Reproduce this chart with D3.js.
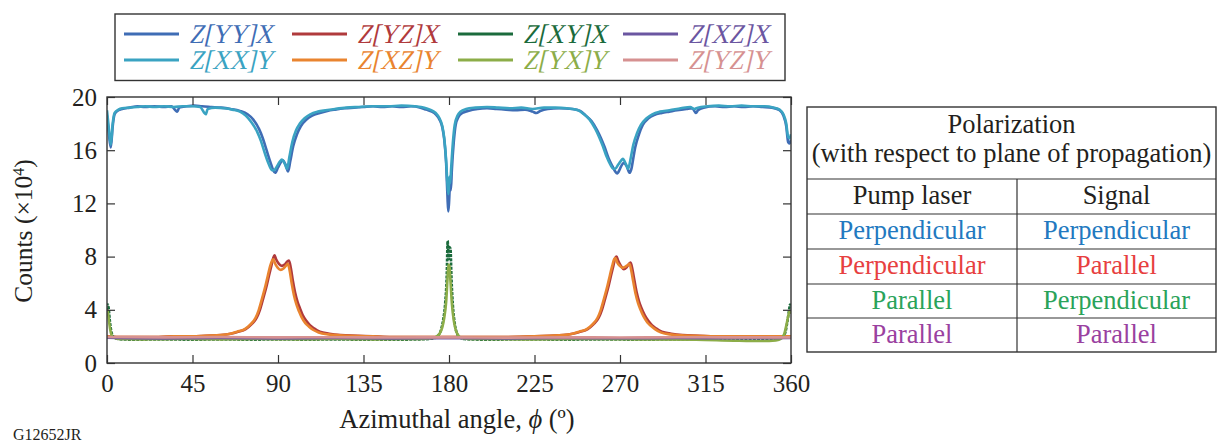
<!DOCTYPE html>
<html><head><meta charset="utf-8">
<script src="https://cdn.jsdelivr.net/npm/d3@7"></script>
<style>
body{margin:0;background:#fff;}
svg{display:block;}
</style></head>
<body><svg id="c" width="1217" height="443"></svg>
<script>
// ---------- data ----------
const xTicks = [0,45,90,135,180,225,270,315,360];
const yTicks = [0,4,8,12,16,20];

const seriesNames = ["Z[YY]X","Z[XX]Y","Z[YZ]X","Z[XZ]Y","Z[XY]X","Z[YX]Y","Z[XZ]X","Z[YZ]Y"];
const seriesColors = ["#3f6db5","#3aa3c2","#b03a3c","#e9842f","#1b6b3c","#8cad48","#6b56a1","#d69191"];

const zYYX = [[0,18.6],[1,17.2],[2,16.2],[3,17.8],[4,18.7],[6,19.0],[8,19.1],[12,19.2],[16,19.3],[20,19.25],[25,19.3],[30,19.25],[34,19.3],[36,19.0],[37,18.9],[38,19.2],[42,19.3],[46,19.35],[50,19.3],[55,19.25],[60,19.2],[65,19.1],[70,18.95],[74,18.7],[77,18.3],[80,17.6],[82,16.9],[84,16.0],[86,15.1],[87.5,14.5],[88.5,14.3],[90,14.7],[91.5,15.1],[92.5,15.25],[94,14.9],[95.3,14.4],[96.5,15.2],[98,16.3],[100,17.2],[102,17.8],[105,18.3],[108,18.6],[112,18.8],[116,18.95],[120,19.05],[125,19.15],[130,19.2],[135,19.25],[140,19.3],[145,19.25],[150,19.3],[155,19.25],[160,19.3],[165,19.2],[168,19.05],[171,18.9],[173,18.7],[175,18.3],[176.5,17.7],[177.5,16.8],[178.5,15.0],[179.2,12.5],[179.6,11.4],[180,12.0],[180.5,13.3],[181,13.0],[181.5,14.5],[182.5,16.6],[183.5,17.9],[185,18.5],[187,18.8],[190,18.95],[195,19.1],[200,19.15],[205,19.1],[210,19.05],[215,19.0],[220,19.05],[224,18.9],[226,18.8],[228,18.95],[232,19.1],[238,19.15],[245,19.1],[249,18.95],[252,18.6],[255,18.2],[258,17.5],[260,16.9],[262,16.2],[264,15.4],[266,14.8],[267.5,14.4],[268.5,14.25],[270,14.6],[271,14.9],[272,15.05],[273.5,14.8],[275,14.3],[276,14.6],[277,15.4],[278,16.2],[280,17.2],[282,17.9],[285,18.4],[288,18.65],[292,18.8],[296,18.9],[300,19.0],[305,19.1],[308,19.15],[310,18.8],[311,19.0],[314,19.2],[320,19.3],[325,19.25],[330,19.3],[335,19.25],[340,19.3],[345,19.25],[350,19.2],[354,19.0],[356,18.6],[357.5,17.8],[358.5,16.6],[359.2,16.5],[360,16.8]];

const zXXY = [[0,19.0],[1,17.6],[2,16.4],[3,18.0],[4,18.8],[6,19.05],[8,19.15],[12,19.2],[16,19.25],[20,19.3],[25,19.25],[30,19.3],[35,19.25],[40,19.3],[45,19.3],[49,19.25],[51,18.85],[52,18.7],[53,19.1],[57,19.2],[62,19.15],[66,19.05],[70,18.9],[73,18.6],[76,18.1],[79,17.4],[81,16.7],[83,15.8],[85,15.0],[86.8,14.5],[88,14.5],[89.5,14.8],[91,15.15],[92,15.3],[93.5,15.0],[94.8,14.6],[96,15.5],[97.5,16.6],[99.5,17.5],[101.5,18.0],[104,18.4],[107,18.7],[111,18.9],[115,19.0],[120,19.1],[126,19.2],[132,19.25],[140,19.3],[148,19.3],[155,19.35],[162,19.3],[167,19.2],[170,19.05],[173,18.8],[175,18.4],[176.5,17.8],[177.5,16.9],[178.5,15.2],[179.2,13.4],[179.7,12.7],[180.2,14.0],[180.6,13.5],[181.2,14.8],[182,16.5],[183,17.9],[184.5,18.6],[186,18.9],[189,19.1],[194,19.2],[200,19.25],[206,19.2],[212,19.15],[218,19.2],[224,19.1],[230,19.2],[236,19.2],[242,19.15],[248,19.0],[251,18.7],[254,18.3],[257,17.6],[259,17.0],[261,16.3],[263,15.5],[265,14.9],[266.5,14.6],[267.5,14.6],[269,14.9],[270.5,15.2],[271.5,15.35],[273,15.0],[274.3,14.6],[275.5,15.3],[277,16.4],[279,17.3],[281,17.9],[284,18.4],[287,18.7],[291,18.9],[296,19.0],[302,19.15],[307,19.25],[309,19.1],[311,19.2],[316,19.3],[322,19.35],[328,19.3],[334,19.35],[340,19.3],[346,19.3],[351,19.2],[354,19.05],[356,18.7],[357.5,18.0],[358.5,17.0],[359.3,16.9],[360,17.2]];

const zYZX = [[0,2.0],[5,1.95],[15,1.95],[25,1.95],[35,2.0],[45,2.0],[52,2.05],[60,2.1],[65,2.2],[69,2.35],[73,2.55],[76,2.9],[78.8,3.4],[80.5,4.0],[82.3,4.9],[84,5.8],[85.3,6.6],[86.5,7.3],[87.5,7.9],[88.2,8.1],[89,7.8],[90.5,7.45],[92,7.3],[93.5,7.4],[95,7.65],[95.8,7.7],[96.8,7.1],[97.8,6.2],[99,5.3],[100.3,4.6],[101.6,4.1],[103,3.6],[105,3.15],[106.8,2.85],[109,2.6],[112,2.35],[117,2.2],[123,2.1],[132,2.05],[140,2.0],[150,1.95],[165,1.95],[180,1.95],[195,1.95],[210,1.95],[225,2.0],[233,2.05],[240,2.1],[245,2.2],[249,2.35],[253,2.55],[256,2.9],[258.8,3.4],[260.5,4.0],[262.3,4.9],[264,5.8],[265.3,6.6],[266.5,7.3],[267.5,7.9],[268.2,8.0],[269,7.7],[270.5,7.3],[272,7.05],[273.5,7.2],[275,7.5],[275.6,7.55],[276.6,7.0],[277.6,6.2],[278.8,5.3],[280.1,4.6],[281.4,4.1],[283,3.6],[285,3.15],[286.8,2.85],[289,2.6],[292,2.35],[297,2.2],[303,2.1],[312,2.05],[320,2.0],[335,2.0],[350,2.0],[360,2.0]];

const zXZY = [[0,2.0],[5,1.95],[15,1.95],[25,1.95],[35,2.0],[45,2.0],[52,2.05],[60,2.1],[65,2.2],[68.5,2.35],[72.5,2.55],[75.5,2.9],[78.2,3.4],[79.9,4.0],[81.7,4.9],[83.4,5.8],[84.7,6.6],[85.9,7.3],[86.9,7.7],[87.6,7.8],[88.4,7.5],[89.9,7.15],[91.4,7.0],[92.9,7.1],[94.4,7.35],[95.2,7.45],[96.2,6.9],[97.2,6.0],[98.4,5.1],[99.7,4.4],[101,3.9],[102.4,3.45],[104.4,3.0],[106.2,2.75],[108.4,2.5],[111.4,2.3],[116.4,2.15],[122.4,2.08],[132,2.02],[140,2.0],[150,1.95],[165,1.95],[180,1.95],[195,1.95],[210,1.95],[225,2.0],[233,2.05],[240,2.1],[245,2.2],[248.5,2.35],[252.5,2.55],[255.5,2.9],[258.2,3.4],[259.9,4.0],[261.7,4.9],[263.4,5.8],[264.7,6.6],[265.9,7.3],[266.9,7.8],[267.6,7.9],[268.4,7.6],[269.9,7.3],[271.4,7.15],[272.9,7.25],[274.4,7.4],[275,7.45],[276,6.9],[277,6.1],[278.2,5.2],[279.5,4.5],[280.8,4.0],[282.4,3.5],[284.4,3.05],[286.2,2.8],[288.4,2.55],[291.4,2.3],[296.4,2.15],[302.4,2.08],[312,2.03],[320,2.0],[335,2.0],[350,2.0],[360,2.0]];

const zXYX = [[0,3.6],[0.4,4.4],[0.9,4.1],[1.4,3.3],[2,2.6],[2.8,2.1],[4,1.9],[6,1.8],[15,1.75],[30,1.78],[45,1.75],[60,1.78],[75,1.75],[90,1.78],[105,1.75],[120,1.78],[135,1.75],[150,1.75],[165,1.78],[172,1.85],[174.5,2.1],[176,2.6],[177,3.3],[178,4.5],[178.8,6.5],[179.3,9.2],[179.8,7.8],[180.3,8.7],[180.8,8.6],[181.3,6.4],[182,4.4],[183,3.0],[184,2.3],[185.5,1.95],[188,1.8],[200,1.75],[220,1.78],[240,1.75],[260,1.78],[280,1.75],[300,1.78],[320,1.75],[340,1.78],[350,1.8],[354,1.85],[356,2.0],[357.2,2.4],[358.2,3.2],[359,4.0],[359.5,4.4],[360,4.2]];

const zYXY = [[0,4.0],[0.5,3.8],[1,3.2],[1.6,2.6],[2.4,2.1],[3.5,1.9],[6,1.8],[20,1.78],[40,1.8],[60,1.78],[80,1.8],[100,1.78],[120,1.8],[140,1.78],[160,1.8],[170,1.85],[173,1.95],[175,2.2],[176.5,2.7],[177.5,3.4],[178.5,4.6],[179.2,6.3],[179.7,7.4],[180.2,7.3],[180.8,6.1],[181.5,4.5],[182.5,3.2],[183.5,2.5],[185,2.05],[187,1.85],[195,1.8],[220,1.78],[250,1.8],[280,1.78],[310,1.75],[330,1.68],[345,1.65],[352,1.7],[355,1.85],[356.5,2.2],[357.5,2.8],[358.5,3.5],[359.3,3.9],[360,3.7]];

const zXZX = [[0,1.9],[30,1.85],[60,1.88],[90,1.85],[120,1.88],[150,1.85],[180,1.87],[210,1.85],[240,1.88],[270,1.86],[300,1.88],[330,1.86],[360,1.88]];

const zYZY = [[0,1.96],[30,1.93],[60,1.95],[90,1.93],[120,1.94],[150,1.92],[180,1.93],[210,1.91],[240,1.93],[270,1.92],[300,1.94],[330,1.93],[360,1.93]];

const drawOrder = [zYYX, zXXY, zYZX, zXZY, zXYX, zYXY, zXZX, zYZY];

const tableTitle = ["Polarization","(with respect to plane of propagation)"];
const tableHead = ["Pump laser","Signal"];
const tablePump = ["Perpendicular","Perpendicular","Parallel","Parallel"];
const tableSignal = ["Perpendicular","Parallel","Perpendicular","Parallel"];
const tableColors = ["#2279c0","#e7403f","#2aa35a","#9a41a0"];

// ---------- layout ----------
const FONT = "'Liberation Serif','Times New Roman',serif";
const INK = "#231f20";
const svg = d3.select("#c");
const L = 107, R = 791, T = 97, B = 363;
const x = d3.scaleLinear().domain([0,360]).range([L,R]);
const y = d3.scaleLinear().domain([0,20]).range([B,T]);

function txt(parent, size){
  return parent.append("text").style("font-family",FONT).style("font-size",size+"px").style("fill",INK);
}

svg.append("clipPath").attr("id","clip").append("rect")
  .attr("x",L).attr("y",T).attr("width",R-L).attr("height",B-T);

const line = d3.line().x(d=>x(d[0])).y(d=>y(d[1])).curve(d3.curveMonotoneX);
const g = svg.append("g").attr("clip-path","url(#clip)");
drawOrder.forEach((data,i)=>{
  g.append("path").datum(data).attr("d",line)
    .attr("fill","none").attr("stroke",seriesColors[i])
    .attr("stroke-width",2.6).attr("stroke-linejoin","round")
    .attr("stroke-dasharray", i===4 ? "3,1.2" : null);
});

// axes with inward ticks on all sides
const axStyle = sel => { sel.select(".domain").remove();
  sel.selectAll("line").attr("stroke","#333").attr("stroke-width",1.2);
  sel.selectAll("text").style("font-family",FONT).style("font-size","25px").style("fill",INK); };
svg.append("g").attr("transform",`translate(0,${B})`)
  .call(d3.axisBottom(x).tickValues(xTicks).tickSize(-8).tickPadding(11).tickFormat(d3.format("d")))
  .call(axStyle);
svg.append("g").attr("transform",`translate(0,${T})`)
  .call(d3.axisTop(x).tickValues(xTicks).tickSize(-8).tickFormat(""))
  .call(axStyle);
svg.append("g").attr("transform",`translate(${L},0)`)
  .call(d3.axisLeft(y).tickValues(yTicks).tickSize(-8).tickPadding(10).tickFormat(d3.format("d")))
  .call(axStyle);
svg.append("g").attr("transform",`translate(${R},0)`)
  .call(d3.axisRight(y).tickValues(yTicks).tickSize(-8).tickFormat(""))
  .call(axStyle);
svg.append("rect").attr("x",L).attr("y",T).attr("width",R-L).attr("height",B-T)
  .attr("fill","none").attr("stroke","#333").attr("stroke-width",1.4);

// axis titles
const xt = txt(svg,26.5).attr("x",457).attr("y",428).attr("text-anchor","middle");
xt.append("tspan").text("Azimuthal angle, ");
xt.append("tspan").attr("font-style","italic").text("ϕ");
xt.append("tspan").text(" (º)");
const yt = txt(svg,25.5).attr("transform","translate(32,231) rotate(-90)").attr("text-anchor","middle");
yt.append("tspan").text("Counts (×10");
yt.append("tspan").attr("dy",-8).style("font-size","16px").text("4");
yt.append("tspan").attr("dy",8).text(")");
txt(svg,16).attr("x",13).attr("y",440).text("G12652JR");

// legend
svg.append("rect").attr("x",115).attr("y",14).attr("width",670).attr("height",66.5)
  .attr("fill","#fff").attr("stroke","#333").attr("stroke-width",1.4);
const legX = [124, 292, 458, 623];
const legOrder = [[0,2,4,6],[1,3,5,7]];
legOrder.forEach((row,r)=>row.forEach((si,c)=>{
  const yy = 34 + r*26;
  svg.append("line").attr("x1",legX[c]).attr("x2",legX[c]+55).attr("y1",yy).attr("y2",yy)
    .attr("stroke",seriesColors[si]).attr("stroke-width",3);
  const t = txt(svg,27).attr("transform",`translate(${legX[c]+65},${yy+9}) skewX(-13)`)
    .style("fill",seriesColors[si]).text(seriesNames[si]);
  const w = t.node().getComputedTextLength();
  t.attr("textLength", w*0.9).attr("lengthAdjust","spacingAndGlyphs");
}));

// table
const tL = 807, tR = 1216, tM = 1017;
const rowsY = [107,179,214,249,284,318,352];
const ts = svg.append("g");
ts.append("rect").attr("x",tL).attr("y",rowsY[0]).attr("width",tR-tL).attr("height",rowsY[6]-rowsY[0])
  .attr("fill","none").attr("stroke","#333").attr("stroke-width",1.4);
rowsY.slice(1,6).forEach(yy=>ts.append("line").attr("x1",tL).attr("x2",tR).attr("y1",yy).attr("y2",yy)
  .attr("stroke","#333").attr("stroke-width",1.2));
ts.append("line").attr("x1",tM).attr("x2",tM).attr("y1",rowsY[1]).attr("y2",rowsY[6])
  .attr("stroke","#333").attr("stroke-width",1.2);
const cx1 = (tL+tM)/2, cx2 = (tM+tR)/2, cxAll = (tL+tR)/2;
const TF = 26.5;
txt(ts,TF).attr("x",cxAll).attr("y",133).attr("text-anchor","middle").text(tableTitle[0]);
txt(ts,TF).attr("x",cxAll).attr("y",162).attr("text-anchor","middle").text(tableTitle[1]);
txt(ts,TF).attr("x",cx1).attr("y",204).attr("text-anchor","middle").text(tableHead[0]);
txt(ts,TF).attr("x",cx2).attr("y",204).attr("text-anchor","middle").text(tableHead[1]);
tablePump.forEach((t,i)=>{
  const yy = rowsY[i+2] + 24.5;
  txt(ts,TF).attr("x",cx1).attr("y",yy).attr("text-anchor","middle").style("fill",tableColors[i]).text(t);
  txt(ts,TF).attr("x",cx2).attr("y",yy).attr("text-anchor","middle").style("fill",tableColors[i]).text(tableSignal[i]);
});
</script></body></html>
